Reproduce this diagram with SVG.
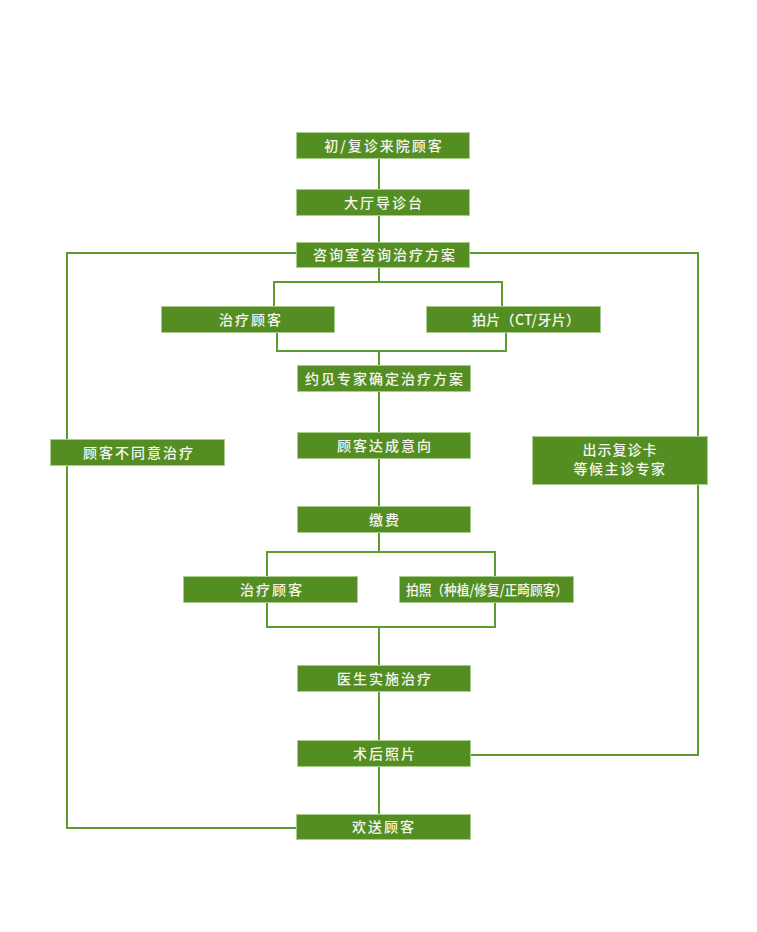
<svg xmlns="http://www.w3.org/2000/svg" width="757" height="932" viewBox="0 0 757 932">
<style>
.bg{fill:#ffffff}
.box{fill:#548e22;stroke:#a9cd8c;stroke-width:1}
.lbl{font-family:"Noto Sans CJK SC","Noto Sans",sans-serif;font-size:14px;fill:#f4f7f0;text-anchor:middle;letter-spacing:2px;font-weight:500}
.ln{fill:none;stroke:#5f9c2f;stroke-width:2}
</style>
<rect class="bg" x="0" y="0" width="757" height="932"/>
<g id="connectors">
<path class="ln" d="M379 159V189M379 215V242M379 267V282"/>
<path class="ln" d="M274 306V282H502V306"/>
<path class="ln" d="M277 333V351H506V333"/>
<path class="ln" d="M379 351V365M379 392V432M379 459V507M379 533V552"/>
<path class="ln" d="M267 576V552H495V576"/>
<path class="ln" d="M267 603V627H495V603"/>
<path class="ln" d="M379 627V665M379 691V740M379 767V814"/>
<path class="ln" d="M296 253H67V828H296"/>
<path class="ln" d="M470 253H698V755H470"/>
</g>
<g id="n1"><rect class="box" x="296.5" y="132.5" width="173" height="26"/><text class="lbl" x="384" y="151">初/复诊来院顾客</text></g>
<g id="n2"><rect class="box" x="296.5" y="189.5" width="173" height="26"/><text class="lbl" x="384" y="208">大厅导诊台</text></g>
<g id="n3"><rect class="box" x="296.5" y="242.5" width="173" height="25"/><text class="lbl" x="385" y="260">咨询室咨询治疗方案</text></g>
<g id="n4"><rect class="box" x="161.5" y="306.5" width="173" height="26"/><text class="lbl" x="251" y="325">治疗顾客</text></g>
<g id="n5"><rect class="box" x="426.5" y="306.5" width="174" height="26"/><text class="lbl" x="527" y="325" textLength="110">拍片（CT/牙片）</text></g>
<g id="n6"><rect class="box" x="297.5" y="365.5" width="173" height="26"/><text class="lbl" x="385" y="384">约见专家确定治疗方案</text></g>
<g id="n7"><rect class="box" x="297.5" y="432.5" width="173" height="26"/><text class="lbl" x="385" y="451">顾客达成意向</text></g>
<g id="n8"><rect class="box" x="50.5" y="439.5" width="174" height="26"/><text class="lbl" x="139" y="458">顾客不同意治疗</text></g>
<g id="n9"><rect class="box" x="532.5" y="436.5" width="175" height="48"/><text class="lbl" x="620" y="455" style="letter-spacing:1px">出示复诊卡</text><text class="lbl" x="620" y="474" style="letter-spacing:1.5px">等候主诊专家</text></g>
<g id="n10"><rect class="box" x="297.5" y="506.5" width="173" height="26"/><text class="lbl" x="385" y="525">缴费</text></g>
<g id="n11"><rect class="box" x="183.5" y="576.5" width="174" height="26"/><text class="lbl" x="272" y="595">治疗顾客</text></g>
<g id="n12"><rect class="box" x="399.5" y="576.5" width="174" height="26"/><text class="lbl" x="487" y="595" textLength="162" lengthAdjust="spacingAndGlyphs" style="letter-spacing:0">拍照（种植/修复/正畸顾客）</text></g>
<g id="n13"><rect class="box" x="297.5" y="665.5" width="173" height="26"/><text class="lbl" x="385" y="684">医生实施治疗</text></g>
<g id="n14"><rect class="box" x="297.5" y="740.5" width="173" height="26"/><text class="lbl" x="385" y="759">术后照片</text></g>
<g id="n15"><rect class="box" x="296.5" y="814.5" width="174" height="25"/><text class="lbl" x="384" y="832">欢送顾客</text></g>
</svg>
